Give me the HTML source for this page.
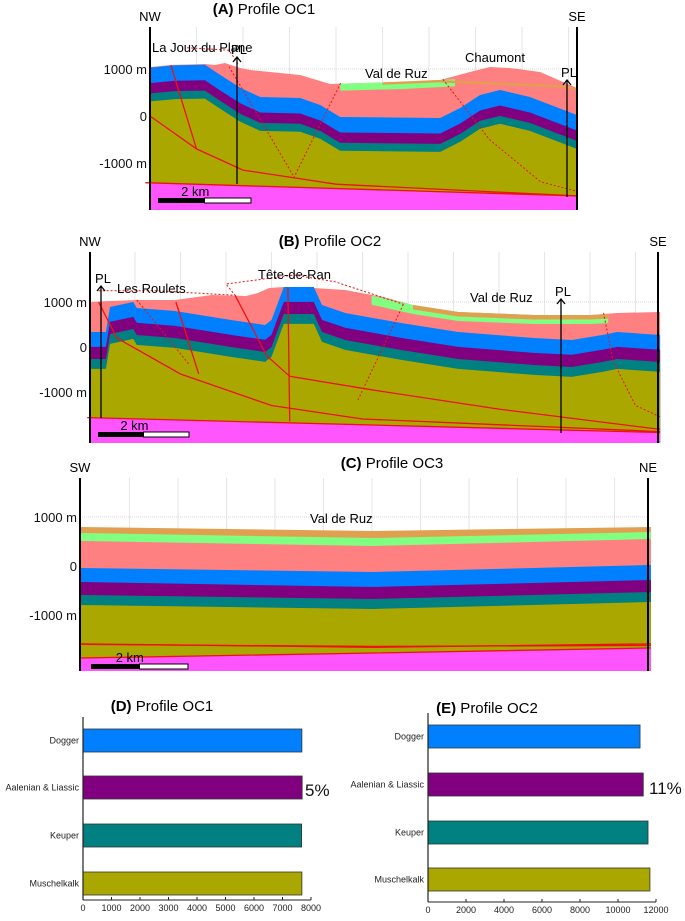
<!DOCTYPE html>
<html><head><meta charset="utf-8">
<style>
html,body{margin:0;padding:0;background:#fff;}
svg{display:block;font-family:"Liberation Sans",sans-serif;}
</style></head>
<body>
<svg id="fig" width="685" height="921" viewBox="0 0 685 921" xmlns="http://www.w3.org/2000/svg">
<g id="pA"></g>
<g id="pB"></g>
<g id="pC"></g>
<g id="cD"></g>
<g id="cE"></g>
</svg>
<script>
const NS="http://www.w3.org/2000/svg";
const COL={orange:"#e0a050",green:"#80ff80",salmon:"#ff8080",blue:"#0080ff",purple:"#800080",teal:"#008080",olive:"#aaa800",pink:"#ff55ff"};

// ---------- Profile A (OC1) data: [km, m] ----------
const aSurface=[[0,1040],[0.43,1085],[1.18,1106],[1.4,1085],[1.61,1128],[1.94,1021],[2.15,979],[3.23,872],[3.87,681],[5.38,723],[6.24,766],[6.88,936],[7.31,1043],[7.74,1021],[8.39,936],[9.18,596]];
const aGreen=[[4.09,690],[5.38,723],[6.56,780]];
const aOrange=[[5.0,715],[6.2,765],[8.9,650],[9.18,596]];
const aBlueTop=[[0,1030],[0.54,1080],[1.18,1090],[1.5,880],[1.94,600],[2.37,404],[3.23,383],[3.66,234],[4.09,-21],[6.24,-43],[6.67,170],[7.1,447],[7.53,553],[8.17,404],[9.18,21]];
const aThick=[330,220,170];
const aBase=[[0,-1420],[9.18,-1720]];

// ---------- Profile B (OC2) ----------
const bSurface=[[0,1000],[0.45,1022],[1.04,1044],[1.88,1044],[2.69,1156],[3.44,1133],[3.7,1200],[3.95,1311],[4.27,1333],[4.93,1311],[5.62,1267],[6.45,1111],[7.11,933],[8.1,778],[9.77,711],[11.02,711],[11.59,756],[12.54,778]];
const bGreen=[[6.2,1140],[7.11,933],[8.1,778],[9.77,711],[11.02,711],[11.4,730]];
const bOrange=[[7.11,933],[8.1,778],[9.77,711],[11.02,711],[11.4,730]];
const bBlueTop=[[0,333],[0.36,333],[0.45,889],[0.96,1000],[1.04,867],[1.88,800],[3.11,600],[3.86,489],[4.0,600],[4.27,1333],[4.93,1333],[5.11,933],[5.62,756],[6.85,533],[8.1,333],[9.77,200],[10.6,156],[11.27,267],[11.6,333],[12.54,267]];
const bThick=[330,270,220];
const bBase=[[0,-1578],[12.54,-1889]];

// ---------- Profile C (OC3) ----------
const cKm=[0,6.03,11.75];
const cOrange=[796,714,796];
const cGreen=[673,571,694];
const cSalmon=[510,408,551];
const cBlue=[-41,-122,20];
const cPurple=[-327,-429,-286];
const cTeal=[-592,-673,-531];
const cOlive=[-796,-878,-735];
const cPink=[-1878,-1776,-1673];

// ---------- Bar charts ----------
const barCats=["Dogger","Aalenian & Liassic","Keuper","Muschelkalk"];
const barColors=[COL.blue,COL.purple,COL.teal,COL.olive];
const dValues=[7680,7690,7670,7680];
const dTicks=[0,1000,2000,3000,4000,5000,6000,7000,8000];
const eValues=[11160,11330,11580,11680];
const eTicks=[0,2000,4000,6000,8000,10000,12000];

function el(tag,attrs,parent,txt){const e=document.createElementNS(NS,tag);for(const k in attrs)e.setAttribute(k,attrs[k]);if(txt!==undefined)e.textContent=txt;parent.appendChild(e);return e;}

function makeAxes(x0,y0,kx,ky){return {X:km=>x0+km*kx,Y:m=>y0-m*ky};}
function poly(pts,ax,bottom){const a=pts.map(p=>ax.X(p[0]).toFixed(1)+","+ax.Y(p[1]).toFixed(1));a.push(ax.X(pts[pts.length-1][0]).toFixed(1)+","+bottom);a.push(ax.X(pts[0][0]).toFixed(1)+","+bottom);return a.join(" ");}
function strip(pts,ax,th){const top=pts.map(p=>ax.X(p[0]).toFixed(1)+","+ax.Y(p[1]).toFixed(1));const bot=pts.slice().reverse().map(p=>ax.X(p[0]).toFixed(1)+","+ax.Y(p[1]-th).toFixed(1));return top.concat(bot).join(" ");}
function line(pts,ax){return pts.map(p=>ax.X(p[0]).toFixed(1)+","+ax.Y(p[1]).toFixed(1)).join(" ");}

function frame(g,ax,left,right,top,bottom,elevs,gridKm){
  const gr=el("g",{},g);
  
  
  gridKm.forEach(k=>el("line",{x1:ax.X(k),x2:ax.X(k),y1:top,y2:bottom,stroke:"#e6e6e6","stroke-width":1},gr));
  elevs.forEach(m=>el("line",{x1:left,x2:right,y1:ax.Y(m),y2:ax.Y(m),stroke:"#d8d8d8","stroke-width":1,"stroke-dasharray":"1,1"},gr));
}
function labels(g,ax,left,elevs,names){
  elevs.forEach((m,i)=>{const t=el("text",{x:left-3,y:ax.Y(m)+5,"text-anchor":"end","font-size":13,fill:"#111"},g,names[i]);
  
  });
}
function borders(g,left,right,top,bottom,l1,l2){
  el("line",{x1:left,x2:left,y1:top,y2:bottom,stroke:"#000","stroke-width":2},g);
  el("line",{x1:right,x2:right,y1:top,y2:bottom,stroke:"#000","stroke-width":2},g);
  const a=el("text",{x:left,y:top-6,"text-anchor":"middle","font-size":13},g,l1);
  
  
  const b=el("text",{x:right,y:top-6,"text-anchor":"middle","font-size":13},g,l2);
  
  
}
function title(g,x,y,tag,rest){const t=el("text",{x:x,y:y,"text-anchor":"middle","font-size":15},g);
  
  
  el("tspan",{"font-weight":"bold"},t,tag);el("tspan",{},t," "+rest);}
function scalebar(g,x1,x2,y){
  const s=el("g",{},g);
  
  
  const mid=(x1+x2)/2;
  el("rect",{x:x1,y:y,width:mid-x1,height:5,fill:"#000"},s);
  el("rect",{x:mid,y:y,width:x2-mid,height:5,fill:"#fff",stroke:"#000","stroke-width":1},s);
  el("text",{x:x1+(x2-x1)*0.4,y:y-2,"text-anchor":"middle","font-size":13},s,"2 km");
}
function pl(g,x,yTop,yBot){
  const p=el("g",{},g);
  
  
  el("line",{x1:x,x2:x,y1:yTop,y2:yBot,stroke:"#000","stroke-width":1.3},p);
  el("polyline",{points:(x-4)+","+(yTop+5)+" "+x+","+yTop+" "+(x+4)+","+(yTop+5),fill:"none",stroke:"#000","stroke-width":1.3},p);
  el("text",{x:x+2,y:yTop-3,"text-anchor":"middle","font-size":13},p,"PL");
}
function layersFrom(g,ax,surface,green,orange,blueTop,thick,base,bottom,greenTh,orangeTh){
  const L=el("g",{},g);
  
  
  el("polygon",{points:poly(surface,ax,bottom),fill:COL.salmon},L);
  el("polygon",{points:strip(green,ax,greenTh),fill:COL.green},L);
  el("polygon",{points:strip(orange,ax,orangeTh),fill:COL.orange},L);
  let off=0;
  const cols=[COL.blue,COL.purple,COL.teal,COL.olive];
  for(let i=0;i<4;i++){
    const pts=blueTop.map(p=>[p[0],p[1]-off]);
    el("polygon",{points:poly(pts,ax,bottom),fill:cols[i]},L);
    if(i<3) off+=thick[i];
  }
  el("polygon",{points:poly(base,ax,bottom),fill:COL.pink},L);
}
function faults(g,ax,list,dashed){
  list.forEach(f=>{const p=el("polyline",{points:line(f,ax),fill:"none",stroke:"#ee1111","stroke-width":dashed?1:1.3,"stroke-dasharray":dashed?"2,2":"none"},g);
  
  });
}

// ===== Panel A =====
(function(){
  const g=document.getElementById("pA");
  const ax=makeAxes(150,116,46.5,0.047);
  const left=150,right=577,top=27,bottom=210;
  frame(g,ax,left,right,top,bottom,[1000,0,-1000],[1,2,3,4,5,6,7,8,9]);
  layersFrom(g,ax,aSurface,aGreen,aOrange,aBlueTop,aThick,aBase,bottom,150,50);
  faults(g,ax,[[[0,0],[1.0,-700],[2.0,-1150],[4,-1450],[9.18,-1700]],[[0.45,1080],[1.0,-700]],[[-0.1,-1420],[9.18,-1700]]],false);
  faults(g,ax,[[[1.7,1050],[3.1,-1300]],[[4.1,700],[3.1,-1300]],[[6.3,780],[7.3,-500],[8.4,-1400],[9.18,-1600]],[[0.8,1450],[1.7,1400],[1.9,1100]]],true);
  pl(g,237,57,184);pl(g,567,80,197);
  borders(g,left,right,top,bottom,"NW","SE");
  labels(g,ax,left,[1000,0,-1000],["1000 m","0","-1000 m"]);
  title(g,264,14,"(A)","Profile OC1");
  [["La Joux du Plane",152,52],["Val de Ruz",365,78],["Chaumont",465,62]].forEach(d=>{const t=el("text",{x:d[1],y:d[2],"font-size":13},g,d[0]);
  
  });
  scalebar(g,158,251,198);
})();

// ===== Panel B =====
(function(){
  const g=document.getElementById("pB");
  const ax=makeAxes(89.5,347,45.5,0.045);
  const left=90,right=658,top=252,bottom=443;
  frame(g,ax,left,right,top,bottom,[1000,0,-1000],[1,2,3,4,5,6,7,8,9,10,11,12]);
  layersFrom(g,ax,bSurface,bGreen,bOrange,bBlueTop,bThick,bBase,bottom,200,100);
  faults(g,ax,[[[0.2,1000],[0.6,200],[2.0,-600],[4,-1300],[6,-1600],[12.54,-1880]],[[3.2,1150],[3.9,-200],[4.4,-650],[6.2,-950],[9,-1380],[12.54,-1830]],[[1.9,1000],[2.4,-600]],[[-0.05,-1570],[12.54,-1900]],[[4.36,1320],[4.4,-1650]]],false);
  faults(g,ax,[[[1.04,1044],[2.2,-400]],[[6.9,950],[5.9,-1180]],[[11.3,760],[11.5,-300],[12.0,-1300],[12.54,-1550]],[[0.2,1250],[1.5,1250],[3.2,1150],[3.0,1400],[4.5,1600],[5.4,1450],[6.9,950]]],true);
  pl(g,101,286,418);pl(g,561,299,433);
  borders(g,left,right,top,bottom,"NW","SE");
  labels(g,ax,left,[1000,0,-1000],["1000 m","0","-1000 m"]);
  title(g,330,246,"(B)","Profile OC2");
  [["Les Roulets",117,293],["Tête-de-Ran",258,279],["Val de Ruz",470,302]].forEach(d=>{const t=el("text",{x:d[1],y:d[2],"font-size":13},g,d[0]);
  
  });
  scalebar(g,98,189,432);
})();

// ===== Panel C =====
(function(){
  const g=document.getElementById("pC");
  const ax=makeAxes(81,566,48.5,0.049);
  const left=80,right=648,top=478,bottom=671;
  frame(g,ax,left,right,top,bottom,[1000,0,-1000],[1,2,3,4,5,6,7,8,9,10,11]);
  const L=el("g",{},g);
  
  
  const sets=[[cOrange,COL.orange],[cGreen,COL.green],[cSalmon,COL.salmon],[cBlue,COL.blue],[cPurple,COL.purple],[cTeal,COL.teal],[cOlive,COL.olive],[cPink,COL.pink]];
  sets.forEach(s=>{const pts=cKm.map((k,i)=>[k,s[0][i]]);el("polygon",{points:poly(pts,ax,bottom),fill:s[1]},L);});
  faults(g,ax,[cKm.map((k,i)=>[k,cPink[i]]),[[0,-1590],[6.03,-1660],[11.75,-1590]],[[0,-1600],[6.03,-1640],[11.75,-1620]]],false);
  borders(g,left,right,top,bottom,"SW","NE");
  labels(g,ax,left,[1000,0,-1000],["1000 m","0","-1000 m"]);
  title(g,392,468,"(C)","Profile OC3");
  const t=el("text",{x:310,y:523,"font-size":13},g,"Val de Ruz");
  
  
  scalebar(g,91,188,664);
})();

// ===== Bar charts =====
function barChart(id,x0,x1,maxV,ticks,values,barTops,barH,axTop,axBot,tag,titleX,titleY,pct,pctX,pctY){
  const g=document.getElementById(id);
  const X=v=>x0+(v/maxV)*(x1-x0);
  title(g,titleX,titleY,tag,"Profile "+(id==="cD"?"OC1":"OC2"));
  values.forEach((v,i)=>{
    const r=el("rect",{x:X(0),y:barTops[i],width:X(v)-X(0),height:barH,fill:barColors[i],stroke:"#333","stroke-width":0.8},g);
    
    
    const t=el("text",{x:X(0)-4,y:barTops[i]+barH/2+3,"text-anchor":"end","font-size":9,fill:"#222"},g,barCats[i]);
    
    
  });
  el("line",{x1:X(0),x2:X(0),y1:axTop,y2:axBot,stroke:"#222","stroke-width":1.2},g);
  el("line",{x1:X(0),x2:X(ticks[ticks.length-1]),y1:axBot,y2:axBot,stroke:"#222","stroke-width":1},g);
  ticks.forEach(v=>{
    el("line",{x1:X(v),x2:X(v),y1:axBot-3,y2:axBot,stroke:"#222","stroke-width":1},g);
    const t=el("text",{x:X(v),y:axBot+11,"text-anchor":"middle","font-size":9,fill:"#222"},g,String(v));
    
    
  });
  const p=el("text",{x:pctX,y:pctY,"font-size":17,fill:"#111"},g,pct);
  
  
}
barChart("cD",83,311,8000,dTicks,dValues,[729,776,824,872],23,717,900,"(D)",162,711,"5%",305,796);
barChart("cE",428,656,12000,eTicks,eValues,[725,773,821,868],23,713,902,"(E)",487,713,"11%",649,794);
</script>
</body></html>
